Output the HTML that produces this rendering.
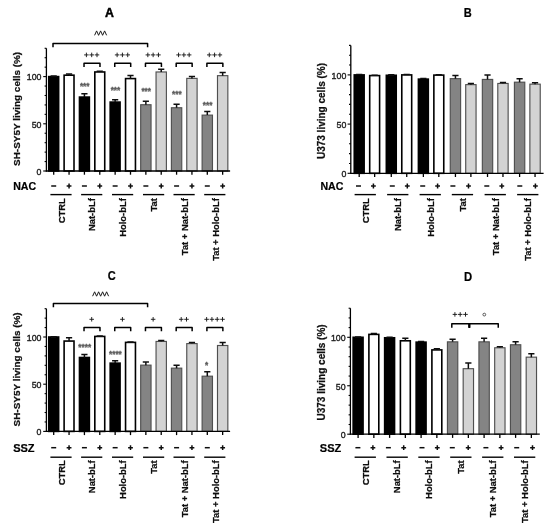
<!DOCTYPE html><html><head><meta charset="utf-8"><title>Figure</title>
<style>html,body{margin:0;padding:0;background:#fff}svg{display:block}</style></head><body>
<svg width="550" height="528" viewBox="0 0 550 528">
<defs><filter id="soft" x="0" y="0" width="550" height="528" filterUnits="userSpaceOnUse"><feGaussianBlur stdDeviation="0.45"/></filter></defs>
<rect width="550" height="528" fill="#fff"/>
<g filter="url(#soft)">
<rect width="550" height="528" fill="#fff"/>
<text transform="translate(109.35 16.9) scale(1.0 1)" font-family="Liberation Sans, sans-serif" font-size="12.3" font-weight="bold" fill="#000" stroke="#000" stroke-width="0.45" text-anchor="middle">A</text>
<text transform="translate(467.8 16.9) scale(0.9 1)" font-family="Liberation Sans, sans-serif" font-size="12.3" font-weight="bold" fill="#000" stroke="#000" stroke-width="0.2" text-anchor="middle">B</text>
<text transform="translate(111.75 280.3) scale(0.9 1)" font-family="Liberation Sans, sans-serif" font-size="12.3" font-weight="bold" fill="#000" stroke="#000" stroke-width="0.2" text-anchor="middle">C</text>
<text transform="translate(468 280.8) scale(0.92 1)" font-family="Liberation Sans, sans-serif" font-size="12.3" font-weight="bold" fill="#000" stroke="#000" stroke-width="0.2" text-anchor="middle">D</text>
<rect x="48.75" y="76.60" width="9.90" height="94.40" fill="#000" stroke="#000" stroke-width="1.6"/>
<path d="M53.70 76.60V76.03M50.60 76.03H56.80" stroke="#111" stroke-width="1.5" fill="none"/>
<rect x="64.11" y="75.18" width="9.90" height="95.82" fill="#fff" stroke="#000" stroke-width="1.6"/>
<path d="M69.06 75.18V74.05M65.96 74.05H72.16" stroke="#111" stroke-width="1.5" fill="none"/>
<rect x="79.47" y="97.08" width="9.90" height="73.92" fill="#000" stroke="#000" stroke-width="1.6"/>
<path d="M84.42 97.08V93.69M81.32 93.69H87.52" stroke="#111" stroke-width="1.5" fill="none"/>
<rect x="94.83" y="71.97" width="9.90" height="99.03" fill="#fff" stroke="#000" stroke-width="1.6"/>
<path d="M99.78 71.97V71.22M96.68 71.22H102.88" stroke="#111" stroke-width="1.5" fill="none"/>
<rect x="110.19" y="102.09" width="9.90" height="68.91" fill="#000" stroke="#000" stroke-width="1.6"/>
<path d="M115.14 102.09V99.73M112.04 99.73H118.24" stroke="#111" stroke-width="1.5" fill="none"/>
<rect x="125.55" y="78.58" width="9.90" height="92.42" fill="#fff" stroke="#000" stroke-width="1.6"/>
<path d="M130.50 78.58V75.56M127.40 75.56H133.60" stroke="#111" stroke-width="1.5" fill="none"/>
<rect x="140.69" y="104.73" width="10.35" height="66.27" fill="#848484" stroke="#505050" stroke-width="1.15"/>
<path d="M145.86 104.73V101.14M142.76 101.14H148.96" stroke="#111" stroke-width="1.5" fill="none"/>
<rect x="156.05" y="71.97" width="10.35" height="99.03" fill="#d3d3d3" stroke="#505050" stroke-width="1.15"/>
<path d="M161.22 71.97V69.33M158.12 69.33H164.32" stroke="#111" stroke-width="1.5" fill="none"/>
<rect x="171.40" y="107.75" width="10.35" height="63.25" fill="#848484" stroke="#505050" stroke-width="1.15"/>
<path d="M176.58 107.75V104.16M173.48 104.16H179.68" stroke="#111" stroke-width="1.5" fill="none"/>
<rect x="186.76" y="78.39" width="10.35" height="92.61" fill="#d3d3d3" stroke="#505050" stroke-width="1.15"/>
<path d="M191.94 78.39V76.60M188.84 76.60H195.04" stroke="#111" stroke-width="1.5" fill="none"/>
<rect x="202.12" y="115.12" width="10.35" height="55.88" fill="#848484" stroke="#505050" stroke-width="1.15"/>
<path d="M207.30 115.12V111.53M204.20 111.53H210.40" stroke="#111" stroke-width="1.5" fill="none"/>
<rect x="217.49" y="75.66" width="10.35" height="95.34" fill="#d3d3d3" stroke="#505050" stroke-width="1.15"/>
<path d="M222.66 75.66V72.45M219.56 72.45H225.76" stroke="#111" stroke-width="1.5" fill="none"/>
<path d="M46.40 48.28V171.60" stroke="#000" stroke-width="1.3" fill="none"/>
<path d="M45.80 171.00H230.10" stroke="#000" stroke-width="1.3" fill="none"/>
<path d="M43.20 171.00H46.40" stroke="#000" stroke-width="1.1"/>
<path d="M44.60 161.56H46.40" stroke="#000" stroke-width="1.1"/>
<path d="M44.60 152.12H46.40" stroke="#000" stroke-width="1.1"/>
<path d="M44.60 142.68H46.40" stroke="#000" stroke-width="1.1"/>
<path d="M44.60 133.24H46.40" stroke="#000" stroke-width="1.1"/>
<path d="M43.20 123.80H46.40" stroke="#000" stroke-width="1.1"/>
<path d="M44.60 114.36H46.40" stroke="#000" stroke-width="1.1"/>
<path d="M44.60 104.92H46.40" stroke="#000" stroke-width="1.1"/>
<path d="M44.60 95.48H46.40" stroke="#000" stroke-width="1.1"/>
<path d="M44.60 86.04H46.40" stroke="#000" stroke-width="1.1"/>
<path d="M43.20 76.60H46.40" stroke="#000" stroke-width="1.1"/>
<path d="M44.60 67.16H46.40" stroke="#000" stroke-width="1.1"/>
<path d="M44.60 57.72H46.40" stroke="#000" stroke-width="1.1"/>
<path d="M44.60 48.28H46.40" stroke="#000" stroke-width="1.1"/>
<text transform="translate(41.50 174.75) scale(0.89 1)" font-family="Liberation Sans, sans-serif" font-size="9.9" fill="#222" stroke="#222" stroke-width="0.4" text-anchor="end">0</text>
<text transform="translate(41.50 127.55) scale(0.89 1)" font-family="Liberation Sans, sans-serif" font-size="9.9" fill="#222" stroke="#222" stroke-width="0.4" text-anchor="end">50</text>
<text transform="translate(41.50 80.35) scale(0.89 1)" font-family="Liberation Sans, sans-serif" font-size="9.9" fill="#222" stroke="#222" stroke-width="0.4" text-anchor="end">100</text>
<path d="M53.70 171.00V174.70" stroke="#000" stroke-width="1.3"/>
<path d="M69.06 171.00V174.70" stroke="#000" stroke-width="1.3"/>
<path d="M84.42 171.00V174.70" stroke="#000" stroke-width="1.3"/>
<path d="M99.78 171.00V174.70" stroke="#000" stroke-width="1.3"/>
<path d="M115.14 171.00V174.70" stroke="#000" stroke-width="1.3"/>
<path d="M130.50 171.00V174.70" stroke="#000" stroke-width="1.3"/>
<path d="M145.86 171.00V174.70" stroke="#000" stroke-width="1.3"/>
<path d="M161.22 171.00V174.70" stroke="#000" stroke-width="1.3"/>
<path d="M176.58 171.00V174.70" stroke="#000" stroke-width="1.3"/>
<path d="M191.94 171.00V174.70" stroke="#000" stroke-width="1.3"/>
<path d="M207.30 171.00V174.70" stroke="#000" stroke-width="1.3"/>
<path d="M222.66 171.00V174.70" stroke="#000" stroke-width="1.3"/>
<text transform="translate(20.10 108.90) rotate(-90)" font-family="Liberation Sans, sans-serif" font-size="9.95" font-weight="bold" fill="#111" stroke="#111" stroke-width="0.25" text-anchor="middle">SH-SY5Y living cells (%)</text>
<text x="13.20" y="189.50" font-family="Liberation Sans, sans-serif" font-size="10.6" font-weight="bold" fill="#000" stroke="#000" stroke-width="0.2">NAC</text>
<path d="M51.20 186.00H56.20" stroke="#111" stroke-width="1.5"/>
<path d="M66.66 186.00H71.46M69.06 183.60V188.40" stroke="#111" stroke-width="1.5" fill="none"/>
<path d="M81.92 186.00H86.92" stroke="#111" stroke-width="1.5"/>
<path d="M97.38 186.00H102.18M99.78 183.60V188.40" stroke="#111" stroke-width="1.5" fill="none"/>
<path d="M112.64 186.00H117.64" stroke="#111" stroke-width="1.5"/>
<path d="M128.10 186.00H132.90M130.50 183.60V188.40" stroke="#111" stroke-width="1.5" fill="none"/>
<path d="M143.36 186.00H148.36" stroke="#111" stroke-width="1.5"/>
<path d="M158.82 186.00H163.62M161.22 183.60V188.40" stroke="#111" stroke-width="1.5" fill="none"/>
<path d="M174.08 186.00H179.08" stroke="#111" stroke-width="1.5"/>
<path d="M189.54 186.00H194.34M191.94 183.60V188.40" stroke="#111" stroke-width="1.5" fill="none"/>
<path d="M204.80 186.00H209.80" stroke="#111" stroke-width="1.5"/>
<path d="M220.26 186.00H225.06M222.66 183.60V188.40" stroke="#111" stroke-width="1.5" fill="none"/>
<path d="M50.40 194.60H71.60" stroke="#000" stroke-width="1.4" fill="none"/>
<text transform="translate(64.60 198.20) rotate(-90) scale(1 1.04)" font-family="Liberation Sans, sans-serif" font-size="9.4" font-weight="bold" fill="#111" stroke="#111" stroke-width="0.25" text-anchor="end">CTRL</text>
<path d="M81.10 194.60H102.30" stroke="#000" stroke-width="1.4" fill="none"/>
<text transform="translate(94.90 198.20) rotate(-90) scale(1 1.04)" font-family="Liberation Sans, sans-serif" font-size="9.4" font-weight="bold" fill="#111" stroke="#111" stroke-width="0.25" text-anchor="end">Nat-bLf</text>
<path d="M112.00 194.60H133.20" stroke="#000" stroke-width="1.4" fill="none"/>
<text transform="translate(126.30 198.20) rotate(-90) scale(1 1.04)" font-family="Liberation Sans, sans-serif" font-size="9.4" font-weight="bold" fill="#111" stroke="#111" stroke-width="0.25" text-anchor="end">Holo-bLf</text>
<path d="M143.00 194.60H164.20" stroke="#000" stroke-width="1.4" fill="none"/>
<text transform="translate(157.30 198.20) rotate(-90) scale(1 1.04)" font-family="Liberation Sans, sans-serif" font-size="9.4" font-weight="bold" fill="#111" stroke="#111" stroke-width="0.25" text-anchor="end">Tat</text>
<path d="M173.50 194.60H194.70" stroke="#000" stroke-width="1.4" fill="none"/>
<text transform="translate(188.30 198.20) rotate(-90) scale(1 1.04)" font-family="Liberation Sans, sans-serif" font-size="9.4" font-weight="bold" fill="#111" stroke="#111" stroke-width="0.25" text-anchor="end">Tat + Nat-bLf</text>
<path d="M204.20 194.60H225.40" stroke="#000" stroke-width="1.4" fill="none"/>
<text transform="translate(218.80 198.20) rotate(-90) scale(1 1.04)" font-family="Liberation Sans, sans-serif" font-size="9.4" font-weight="bold" fill="#111" stroke="#111" stroke-width="0.25" text-anchor="end">Tat + Holo-bLf</text>
<path d="M53.00 47.20V43.60H147.60V47.20" stroke="#000" stroke-width="1.5" fill="none" stroke-linejoin="round"/>
<path d="M94.60 35.30L96.60 30.90L98.60 35.30L100.60 30.90L102.60 35.30L104.60 30.90L106.60 35.30" stroke="#1a1a1a" stroke-width="1.0" fill="none" stroke-linejoin="miter"/>
<path d="M84.02 67.10V63.30H99.98V67.10" stroke="#000" stroke-width="1.5" fill="none" stroke-linejoin="round"/>
<path d="M84.15 54.90H88.65M86.40 52.65V57.15M89.45 54.90H93.95M91.70 52.65V57.15M94.75 54.90H99.25M97.00 52.65V57.15" stroke="#1a1a1a" stroke-width="0.95" fill="none"/>
<path d="M114.74 67.10V63.30H130.70V67.10" stroke="#000" stroke-width="1.5" fill="none" stroke-linejoin="round"/>
<path d="M114.87 54.90H119.37M117.12 52.65V57.15M120.17 54.90H124.67M122.42 52.65V57.15M125.47 54.90H129.97M127.72 52.65V57.15" stroke="#1a1a1a" stroke-width="0.95" fill="none"/>
<path d="M145.46 67.10V63.30H161.42V67.10" stroke="#000" stroke-width="1.5" fill="none" stroke-linejoin="round"/>
<path d="M145.59 54.90H150.09M147.84 52.65V57.15M150.89 54.90H155.39M153.14 52.65V57.15M156.19 54.90H160.69M158.44 52.65V57.15" stroke="#1a1a1a" stroke-width="0.95" fill="none"/>
<path d="M176.18 67.10V63.30H192.14V67.10" stroke="#000" stroke-width="1.5" fill="none" stroke-linejoin="round"/>
<path d="M176.31 54.90H180.81M178.56 52.65V57.15M181.61 54.90H186.11M183.86 52.65V57.15M186.91 54.90H191.41M189.16 52.65V57.15" stroke="#1a1a1a" stroke-width="0.95" fill="none"/>
<path d="M206.90 67.10V63.30H222.86V67.10" stroke="#000" stroke-width="1.5" fill="none" stroke-linejoin="round"/>
<path d="M207.03 54.90H211.53M209.28 52.65V57.15M212.33 54.90H216.83M214.58 52.65V57.15M217.63 54.90H222.13M219.88 52.65V57.15" stroke="#1a1a1a" stroke-width="0.95" fill="none"/>
<text x="84.72" y="89.14" font-family="Liberation Sans, sans-serif" font-size="8.2" font-weight="bold" fill="#5a5a5a" stroke="#5a5a5a" stroke-width="0.3" text-anchor="middle">***</text>
<text x="115.44" y="92.74" font-family="Liberation Sans, sans-serif" font-size="8.2" font-weight="bold" fill="#5a5a5a" stroke="#5a5a5a" stroke-width="0.3" text-anchor="middle">***</text>
<text x="146.16" y="93.74" font-family="Liberation Sans, sans-serif" font-size="8.2" font-weight="bold" fill="#5a5a5a" stroke="#5a5a5a" stroke-width="0.3" text-anchor="middle">***</text>
<text x="176.88" y="96.74" font-family="Liberation Sans, sans-serif" font-size="8.2" font-weight="bold" fill="#5a5a5a" stroke="#5a5a5a" stroke-width="0.3" text-anchor="middle">***</text>
<text x="207.60" y="107.54" font-family="Liberation Sans, sans-serif" font-size="8.2" font-weight="bold" fill="#5a5a5a" stroke="#5a5a5a" stroke-width="0.3" text-anchor="middle">***</text>
<rect x="354.25" y="74.90" width="9.90" height="98.40" fill="#000" stroke="#000" stroke-width="1.6"/>
<path d="M359.20 74.90V74.60M356.10 74.60H362.30" stroke="#111" stroke-width="1.5" fill="none"/>
<rect x="369.70" y="75.59" width="9.90" height="97.71" fill="#fff" stroke="#000" stroke-width="1.6"/>
<path d="M374.65 75.59V75.29M371.55 75.29H377.75" stroke="#111" stroke-width="1.5" fill="none"/>
<rect x="386.33" y="75.29" width="9.90" height="98.01" fill="#000" stroke="#000" stroke-width="1.6"/>
<path d="M391.28 75.29V74.80M388.18 74.80H394.38" stroke="#111" stroke-width="1.5" fill="none"/>
<rect x="401.78" y="74.90" width="9.90" height="98.40" fill="#fff" stroke="#000" stroke-width="1.6"/>
<path d="M406.73 74.90V74.60M403.63 74.60H409.83" stroke="#111" stroke-width="1.5" fill="none"/>
<rect x="418.41" y="79.13" width="9.90" height="94.17" fill="#000" stroke="#000" stroke-width="1.6"/>
<path d="M423.36 79.13V78.54M420.26 78.54H426.46" stroke="#111" stroke-width="1.5" fill="none"/>
<rect x="433.86" y="75.10" width="9.90" height="98.20" fill="#fff" stroke="#000" stroke-width="1.6"/>
<path d="M438.81 75.10V74.70M435.71 74.70H441.91" stroke="#111" stroke-width="1.5" fill="none"/>
<rect x="450.26" y="78.64" width="10.35" height="94.66" fill="#848484" stroke="#505050" stroke-width="1.15"/>
<path d="M455.44 78.64V75.49M452.34 75.49H458.54" stroke="#111" stroke-width="1.5" fill="none"/>
<rect x="465.71" y="84.64" width="10.35" height="88.66" fill="#d3d3d3" stroke="#505050" stroke-width="1.15"/>
<path d="M470.89 84.64V83.46M467.79 83.46H473.99" stroke="#111" stroke-width="1.5" fill="none"/>
<rect x="482.34" y="79.43" width="10.35" height="93.87" fill="#848484" stroke="#505050" stroke-width="1.15"/>
<path d="M487.52 79.43V75.10M484.42 75.10H490.62" stroke="#111" stroke-width="1.5" fill="none"/>
<rect x="497.79" y="83.46" width="10.35" height="89.84" fill="#d3d3d3" stroke="#505050" stroke-width="1.15"/>
<path d="M502.97 83.46V82.48M499.87 82.48H506.07" stroke="#111" stroke-width="1.5" fill="none"/>
<rect x="514.42" y="82.18" width="10.35" height="91.12" fill="#848484" stroke="#505050" stroke-width="1.15"/>
<path d="M519.60 82.18V78.64M516.50 78.64H522.70" stroke="#111" stroke-width="1.5" fill="none"/>
<rect x="529.88" y="84.15" width="10.35" height="89.15" fill="#d3d3d3" stroke="#505050" stroke-width="1.15"/>
<path d="M535.05 84.15V82.77M531.95 82.77H538.15" stroke="#111" stroke-width="1.5" fill="none"/>
<path d="M350.80 45.38V173.90" stroke="#000" stroke-width="1.3" fill="none"/>
<path d="M350.20 173.30H543.60" stroke="#000" stroke-width="1.3" fill="none"/>
<path d="M347.60 173.30H350.80" stroke="#000" stroke-width="1.1"/>
<path d="M349.00 163.46H350.80" stroke="#000" stroke-width="1.1"/>
<path d="M349.00 153.62H350.80" stroke="#000" stroke-width="1.1"/>
<path d="M349.00 143.78H350.80" stroke="#000" stroke-width="1.1"/>
<path d="M349.00 133.94H350.80" stroke="#000" stroke-width="1.1"/>
<path d="M347.60 124.10H350.80" stroke="#000" stroke-width="1.1"/>
<path d="M349.00 114.26H350.80" stroke="#000" stroke-width="1.1"/>
<path d="M349.00 104.42H350.80" stroke="#000" stroke-width="1.1"/>
<path d="M349.00 94.58H350.80" stroke="#000" stroke-width="1.1"/>
<path d="M349.00 84.74H350.80" stroke="#000" stroke-width="1.1"/>
<path d="M347.60 74.90H350.80" stroke="#000" stroke-width="1.1"/>
<path d="M349.00 65.06H350.80" stroke="#000" stroke-width="1.1"/>
<path d="M349.00 55.22H350.80" stroke="#000" stroke-width="1.1"/>
<path d="M349.00 45.38H350.80" stroke="#000" stroke-width="1.1"/>
<text transform="translate(346.30 177.05) scale(0.89 1)" font-family="Liberation Sans, sans-serif" font-size="9.9" fill="#222" stroke="#222" stroke-width="0.4" text-anchor="end">0</text>
<text transform="translate(346.30 127.85) scale(0.89 1)" font-family="Liberation Sans, sans-serif" font-size="9.9" fill="#222" stroke="#222" stroke-width="0.4" text-anchor="end">50</text>
<text transform="translate(346.30 78.65) scale(0.89 1)" font-family="Liberation Sans, sans-serif" font-size="9.9" fill="#222" stroke="#222" stroke-width="0.4" text-anchor="end">100</text>
<path d="M359.20 173.30V177.00" stroke="#000" stroke-width="1.3"/>
<path d="M374.65 173.30V177.00" stroke="#000" stroke-width="1.3"/>
<path d="M391.28 173.30V177.00" stroke="#000" stroke-width="1.3"/>
<path d="M406.73 173.30V177.00" stroke="#000" stroke-width="1.3"/>
<path d="M423.36 173.30V177.00" stroke="#000" stroke-width="1.3"/>
<path d="M438.81 173.30V177.00" stroke="#000" stroke-width="1.3"/>
<path d="M455.44 173.30V177.00" stroke="#000" stroke-width="1.3"/>
<path d="M470.89 173.30V177.00" stroke="#000" stroke-width="1.3"/>
<path d="M487.52 173.30V177.00" stroke="#000" stroke-width="1.3"/>
<path d="M502.97 173.30V177.00" stroke="#000" stroke-width="1.3"/>
<path d="M519.60 173.30V177.00" stroke="#000" stroke-width="1.3"/>
<path d="M535.05 173.30V177.00" stroke="#000" stroke-width="1.3"/>
<text transform="translate(325.00 111.00) rotate(-90)" font-family="Liberation Sans, sans-serif" font-size="10.00" font-weight="bold" fill="#111" stroke="#111" stroke-width="0.25" text-anchor="middle">U373 living cells (%)</text>
<text x="320.40" y="189.50" font-family="Liberation Sans, sans-serif" font-size="10.6" font-weight="bold" fill="#000" stroke="#000" stroke-width="0.2">NAC</text>
<path d="M356.00 186.00H361.00" stroke="#111" stroke-width="1.5"/>
<path d="M371.00 186.00H375.80M373.40 183.60V188.40" stroke="#111" stroke-width="1.5" fill="none"/>
<path d="M389.80 186.00H394.80" stroke="#111" stroke-width="1.5"/>
<path d="M404.90 186.00H409.70M407.30 183.60V188.40" stroke="#111" stroke-width="1.5" fill="none"/>
<path d="M420.20 186.00H425.20" stroke="#111" stroke-width="1.5"/>
<path d="M435.20 186.00H440.00M437.60 183.60V188.40" stroke="#111" stroke-width="1.5" fill="none"/>
<path d="M450.40 186.00H455.40" stroke="#111" stroke-width="1.5"/>
<path d="M466.10 186.00H470.90M468.50 183.60V188.40" stroke="#111" stroke-width="1.5" fill="none"/>
<path d="M484.30 186.00H489.30" stroke="#111" stroke-width="1.5"/>
<path d="M499.40 186.00H504.20M501.80 183.60V188.40" stroke="#111" stroke-width="1.5" fill="none"/>
<path d="M517.30 186.00H522.30" stroke="#111" stroke-width="1.5"/>
<path d="M533.00 186.00H537.80M535.40 183.60V188.40" stroke="#111" stroke-width="1.5" fill="none"/>
<path d="M354.60 194.60H375.90" stroke="#000" stroke-width="1.4" fill="none"/>
<text transform="translate(368.60 198.20) rotate(-90) scale(1 1.04)" font-family="Liberation Sans, sans-serif" font-size="9.4" font-weight="bold" fill="#111" stroke="#111" stroke-width="0.25" text-anchor="end">CTRL</text>
<path d="M387.10 194.60H408.40" stroke="#000" stroke-width="1.4" fill="none"/>
<text transform="translate(401.00 198.20) rotate(-90) scale(1 1.04)" font-family="Liberation Sans, sans-serif" font-size="9.4" font-weight="bold" fill="#111" stroke="#111" stroke-width="0.25" text-anchor="end">Nat-bLf</text>
<path d="M419.60 194.60H440.90" stroke="#000" stroke-width="1.4" fill="none"/>
<text transform="translate(433.60 198.20) rotate(-90) scale(1 1.04)" font-family="Liberation Sans, sans-serif" font-size="9.4" font-weight="bold" fill="#111" stroke="#111" stroke-width="0.25" text-anchor="end">Holo-bLf</text>
<path d="M451.80 194.60H473.10" stroke="#000" stroke-width="1.4" fill="none"/>
<text transform="translate(466.00 198.20) rotate(-90) scale(1 1.04)" font-family="Liberation Sans, sans-serif" font-size="9.4" font-weight="bold" fill="#111" stroke="#111" stroke-width="0.25" text-anchor="end">Tat</text>
<path d="M484.60 194.60H505.90" stroke="#000" stroke-width="1.4" fill="none"/>
<text transform="translate(498.80 198.20) rotate(-90) scale(1 1.04)" font-family="Liberation Sans, sans-serif" font-size="9.4" font-weight="bold" fill="#111" stroke="#111" stroke-width="0.25" text-anchor="end">Tat + Nat-bLf</text>
<path d="M517.10 194.60H538.40" stroke="#000" stroke-width="1.4" fill="none"/>
<text transform="translate(531.00 198.20) rotate(-90) scale(1 1.04)" font-family="Liberation Sans, sans-serif" font-size="9.4" font-weight="bold" fill="#111" stroke="#111" stroke-width="0.25" text-anchor="end">Tat + Holo-bLf</text>
<rect x="48.75" y="337.00" width="9.90" height="94.40" fill="#000" stroke="#000" stroke-width="1.6"/>
<path d="M53.70 337.00V336.72M50.60 336.72H56.80" stroke="#111" stroke-width="1.5" fill="none"/>
<rect x="64.11" y="341.06" width="9.90" height="90.34" fill="#fff" stroke="#000" stroke-width="1.6"/>
<path d="M69.06 341.06V337.66M65.96 337.66H72.16" stroke="#111" stroke-width="1.5" fill="none"/>
<rect x="79.47" y="357.48" width="9.90" height="73.92" fill="#000" stroke="#000" stroke-width="1.6"/>
<path d="M84.42 357.48V354.46M81.32 354.46H87.52" stroke="#111" stroke-width="1.5" fill="none"/>
<rect x="94.83" y="336.43" width="9.90" height="94.97" fill="#fff" stroke="#000" stroke-width="1.6"/>
<path d="M99.78 336.43V335.96M96.68 335.96H102.88" stroke="#111" stroke-width="1.5" fill="none"/>
<rect x="110.19" y="363.15" width="9.90" height="68.25" fill="#000" stroke="#000" stroke-width="1.6"/>
<path d="M115.14 363.15V360.69M112.04 360.69H118.24" stroke="#111" stroke-width="1.5" fill="none"/>
<rect x="125.55" y="342.38" width="9.90" height="89.02" fill="#fff" stroke="#000" stroke-width="1.6"/>
<path d="M130.50 342.38V341.91M127.40 341.91H133.60" stroke="#111" stroke-width="1.5" fill="none"/>
<rect x="140.69" y="365.13" width="10.35" height="66.27" fill="#848484" stroke="#505050" stroke-width="1.15"/>
<path d="M145.86 365.13V362.11M142.76 362.11H148.96" stroke="#111" stroke-width="1.5" fill="none"/>
<rect x="156.05" y="341.44" width="10.35" height="89.96" fill="#d3d3d3" stroke="#505050" stroke-width="1.15"/>
<path d="M161.22 341.44V340.40M158.12 340.40H164.32" stroke="#111" stroke-width="1.5" fill="none"/>
<rect x="171.40" y="368.15" width="10.35" height="63.25" fill="#848484" stroke="#505050" stroke-width="1.15"/>
<path d="M176.58 368.15V365.13M173.48 365.13H179.68" stroke="#111" stroke-width="1.5" fill="none"/>
<rect x="186.76" y="343.61" width="10.35" height="87.79" fill="#d3d3d3" stroke="#505050" stroke-width="1.15"/>
<path d="M191.94 343.61V342.57M188.84 342.57H195.04" stroke="#111" stroke-width="1.5" fill="none"/>
<rect x="202.12" y="376.18" width="10.35" height="55.22" fill="#848484" stroke="#505050" stroke-width="1.15"/>
<path d="M207.30 376.18V371.74M204.20 371.74H210.40" stroke="#111" stroke-width="1.5" fill="none"/>
<rect x="217.49" y="345.50" width="10.35" height="85.90" fill="#d3d3d3" stroke="#505050" stroke-width="1.15"/>
<path d="M222.66 345.50V342.48M219.56 342.48H225.76" stroke="#111" stroke-width="1.5" fill="none"/>
<path d="M46.40 308.68V432.00" stroke="#000" stroke-width="1.3" fill="none"/>
<path d="M45.80 431.40H230.10" stroke="#000" stroke-width="1.3" fill="none"/>
<path d="M43.20 431.40H46.40" stroke="#000" stroke-width="1.1"/>
<path d="M44.60 421.96H46.40" stroke="#000" stroke-width="1.1"/>
<path d="M44.60 412.52H46.40" stroke="#000" stroke-width="1.1"/>
<path d="M44.60 403.08H46.40" stroke="#000" stroke-width="1.1"/>
<path d="M44.60 393.64H46.40" stroke="#000" stroke-width="1.1"/>
<path d="M43.20 384.20H46.40" stroke="#000" stroke-width="1.1"/>
<path d="M44.60 374.76H46.40" stroke="#000" stroke-width="1.1"/>
<path d="M44.60 365.32H46.40" stroke="#000" stroke-width="1.1"/>
<path d="M44.60 355.88H46.40" stroke="#000" stroke-width="1.1"/>
<path d="M44.60 346.44H46.40" stroke="#000" stroke-width="1.1"/>
<path d="M43.20 337.00H46.40" stroke="#000" stroke-width="1.1"/>
<path d="M44.60 327.56H46.40" stroke="#000" stroke-width="1.1"/>
<path d="M44.60 318.12H46.40" stroke="#000" stroke-width="1.1"/>
<path d="M44.60 308.68H46.40" stroke="#000" stroke-width="1.1"/>
<text transform="translate(41.50 435.15) scale(0.89 1)" font-family="Liberation Sans, sans-serif" font-size="9.9" fill="#222" stroke="#222" stroke-width="0.4" text-anchor="end">0</text>
<text transform="translate(41.50 387.95) scale(0.89 1)" font-family="Liberation Sans, sans-serif" font-size="9.9" fill="#222" stroke="#222" stroke-width="0.4" text-anchor="end">50</text>
<text transform="translate(41.50 340.75) scale(0.89 1)" font-family="Liberation Sans, sans-serif" font-size="9.9" fill="#222" stroke="#222" stroke-width="0.4" text-anchor="end">100</text>
<path d="M53.70 431.40V435.10" stroke="#000" stroke-width="1.3"/>
<path d="M69.06 431.40V435.10" stroke="#000" stroke-width="1.3"/>
<path d="M84.42 431.40V435.10" stroke="#000" stroke-width="1.3"/>
<path d="M99.78 431.40V435.10" stroke="#000" stroke-width="1.3"/>
<path d="M115.14 431.40V435.10" stroke="#000" stroke-width="1.3"/>
<path d="M130.50 431.40V435.10" stroke="#000" stroke-width="1.3"/>
<path d="M145.86 431.40V435.10" stroke="#000" stroke-width="1.3"/>
<path d="M161.22 431.40V435.10" stroke="#000" stroke-width="1.3"/>
<path d="M176.58 431.40V435.10" stroke="#000" stroke-width="1.3"/>
<path d="M191.94 431.40V435.10" stroke="#000" stroke-width="1.3"/>
<path d="M207.30 431.40V435.10" stroke="#000" stroke-width="1.3"/>
<path d="M222.66 431.40V435.10" stroke="#000" stroke-width="1.3"/>
<text transform="translate(20.10 369.40) rotate(-90)" font-family="Liberation Sans, sans-serif" font-size="9.95" font-weight="bold" fill="#111" stroke="#111" stroke-width="0.25" text-anchor="middle">SH-SY5Y living cells (%)</text>
<text x="13.20" y="451.60" font-family="Liberation Sans, sans-serif" font-size="11.0" font-weight="bold" fill="#000" stroke="#000" stroke-width="0.2">SSZ</text>
<path d="M51.20 447.70H56.20" stroke="#111" stroke-width="1.5"/>
<path d="M66.66 447.70H71.46M69.06 445.30V450.10" stroke="#111" stroke-width="1.5" fill="none"/>
<path d="M81.92 447.70H86.92" stroke="#111" stroke-width="1.5"/>
<path d="M97.38 447.70H102.18M99.78 445.30V450.10" stroke="#111" stroke-width="1.5" fill="none"/>
<path d="M112.64 447.70H117.64" stroke="#111" stroke-width="1.5"/>
<path d="M128.10 447.70H132.90M130.50 445.30V450.10" stroke="#111" stroke-width="1.5" fill="none"/>
<path d="M143.36 447.70H148.36" stroke="#111" stroke-width="1.5"/>
<path d="M158.82 447.70H163.62M161.22 445.30V450.10" stroke="#111" stroke-width="1.5" fill="none"/>
<path d="M174.08 447.70H179.08" stroke="#111" stroke-width="1.5"/>
<path d="M189.54 447.70H194.34M191.94 445.30V450.10" stroke="#111" stroke-width="1.5" fill="none"/>
<path d="M204.80 447.70H209.80" stroke="#111" stroke-width="1.5"/>
<path d="M220.26 447.70H225.06M222.66 445.30V450.10" stroke="#111" stroke-width="1.5" fill="none"/>
<path d="M50.40 457.20H71.60" stroke="#000" stroke-width="1.4" fill="none"/>
<text transform="translate(64.60 460.30) rotate(-90) scale(1 1.04)" font-family="Liberation Sans, sans-serif" font-size="9.4" font-weight="bold" fill="#111" stroke="#111" stroke-width="0.25" text-anchor="end">CTRL</text>
<path d="M81.10 457.20H102.30" stroke="#000" stroke-width="1.4" fill="none"/>
<text transform="translate(94.90 460.30) rotate(-90) scale(1 1.04)" font-family="Liberation Sans, sans-serif" font-size="9.4" font-weight="bold" fill="#111" stroke="#111" stroke-width="0.25" text-anchor="end">Nat-bLf</text>
<path d="M112.00 457.20H133.20" stroke="#000" stroke-width="1.4" fill="none"/>
<text transform="translate(126.30 460.30) rotate(-90) scale(1 1.04)" font-family="Liberation Sans, sans-serif" font-size="9.4" font-weight="bold" fill="#111" stroke="#111" stroke-width="0.25" text-anchor="end">Holo-bLf</text>
<path d="M143.00 457.20H164.20" stroke="#000" stroke-width="1.4" fill="none"/>
<text transform="translate(157.30 460.30) rotate(-90) scale(1 1.04)" font-family="Liberation Sans, sans-serif" font-size="9.4" font-weight="bold" fill="#111" stroke="#111" stroke-width="0.25" text-anchor="end">Tat</text>
<path d="M173.50 457.20H194.70" stroke="#000" stroke-width="1.4" fill="none"/>
<text transform="translate(188.30 460.30) rotate(-90) scale(1 1.04)" font-family="Liberation Sans, sans-serif" font-size="9.4" font-weight="bold" fill="#111" stroke="#111" stroke-width="0.25" text-anchor="end">Tat + Nat-bLf</text>
<path d="M204.20 457.20H225.40" stroke="#000" stroke-width="1.4" fill="none"/>
<text transform="translate(218.80 460.30) rotate(-90) scale(1 1.04)" font-family="Liberation Sans, sans-serif" font-size="9.4" font-weight="bold" fill="#111" stroke="#111" stroke-width="0.25" text-anchor="end">Tat + Holo-bLf</text>
<path d="M53.40 307.20V303.60H147.60V307.20" stroke="#000" stroke-width="1.5" fill="none" stroke-linejoin="round"/>
<path d="M92.60 296.20L94.60 291.80L96.60 296.20L98.60 291.80L100.60 296.20L102.60 291.80L104.60 296.20L106.60 291.80L108.60 296.20" stroke="#1a1a1a" stroke-width="1.0" fill="none" stroke-linejoin="miter"/>
<path d="M84.02 331.30V327.50H99.98V331.30" stroke="#000" stroke-width="1.5" fill="none" stroke-linejoin="round"/>
<path d="M89.45 319.30H93.95M91.70 317.05V321.55" stroke="#1a1a1a" stroke-width="0.95" fill="none"/>
<path d="M114.74 331.30V327.50H130.70V331.30" stroke="#000" stroke-width="1.5" fill="none" stroke-linejoin="round"/>
<path d="M120.17 319.30H124.67M122.42 317.05V321.55" stroke="#1a1a1a" stroke-width="0.95" fill="none"/>
<path d="M145.46 331.30V327.50H161.42V331.30" stroke="#000" stroke-width="1.5" fill="none" stroke-linejoin="round"/>
<path d="M150.89 319.30H155.39M153.14 317.05V321.55" stroke="#1a1a1a" stroke-width="0.95" fill="none"/>
<path d="M176.18 331.30V327.50H192.14V331.30" stroke="#000" stroke-width="1.5" fill="none" stroke-linejoin="round"/>
<path d="M178.96 319.30H183.46M181.21 317.05V321.55M184.26 319.30H188.76M186.51 317.05V321.55" stroke="#1a1a1a" stroke-width="0.95" fill="none"/>
<path d="M206.90 331.30V327.50H222.86V331.30" stroke="#000" stroke-width="1.5" fill="none" stroke-linejoin="round"/>
<path d="M204.38 319.30H208.88M206.63 317.05V321.55M209.68 319.30H214.18M211.93 317.05V321.55M214.98 319.30H219.48M217.23 317.05V321.55M220.28 319.30H224.78M222.53 317.05V321.55" stroke="#1a1a1a" stroke-width="0.95" fill="none"/>
<text x="84.72" y="349.74" font-family="Liberation Sans, sans-serif" font-size="8.2" font-weight="bold" fill="#5a5a5a" stroke="#5a5a5a" stroke-width="0.3" text-anchor="middle">****</text>
<text x="115.44" y="356.74" font-family="Liberation Sans, sans-serif" font-size="8.2" font-weight="bold" fill="#5a5a5a" stroke="#5a5a5a" stroke-width="0.3" text-anchor="middle">****</text>
<text x="206.60" y="367.54" font-family="Liberation Sans, sans-serif" font-size="8.2" font-weight="bold" fill="#5a5a5a" stroke="#5a5a5a" stroke-width="0.3" text-anchor="middle">*</text>
<rect x="353.15" y="337.30" width="9.90" height="96.90" fill="#000" stroke="#000" stroke-width="1.6"/>
<path d="M358.10 337.30V337.01M355.00 337.01H361.20" stroke="#111" stroke-width="1.5" fill="none"/>
<rect x="368.90" y="334.39" width="9.90" height="99.81" fill="#fff" stroke="#000" stroke-width="1.6"/>
<path d="M373.85 334.39V333.42M370.75 333.42H376.95" stroke="#111" stroke-width="1.5" fill="none"/>
<rect x="384.65" y="337.78" width="9.90" height="96.42" fill="#000" stroke="#000" stroke-width="1.6"/>
<path d="M389.60 337.78V337.30M386.50 337.30H392.70" stroke="#111" stroke-width="1.5" fill="none"/>
<rect x="400.40" y="340.79" width="9.90" height="93.41" fill="#fff" stroke="#000" stroke-width="1.6"/>
<path d="M405.35 340.79V338.17M402.25 338.17H408.45" stroke="#111" stroke-width="1.5" fill="none"/>
<rect x="416.15" y="342.14" width="9.90" height="92.06" fill="#000" stroke="#000" stroke-width="1.6"/>
<path d="M421.10 342.14V341.56M418.00 341.56H424.20" stroke="#111" stroke-width="1.5" fill="none"/>
<rect x="431.90" y="349.90" width="9.90" height="84.30" fill="#fff" stroke="#000" stroke-width="1.6"/>
<path d="M436.85 349.90V348.73M433.75 348.73H439.95" stroke="#111" stroke-width="1.5" fill="none"/>
<rect x="447.43" y="341.85" width="10.35" height="92.35" fill="#848484" stroke="#505050" stroke-width="1.15"/>
<path d="M452.60 341.85V339.24M449.50 339.24H455.70" stroke="#111" stroke-width="1.5" fill="none"/>
<rect x="463.18" y="368.70" width="10.35" height="65.50" fill="#d3d3d3" stroke="#505050" stroke-width="1.15"/>
<path d="M468.35 368.70V363.08M465.25 363.08H471.45" stroke="#111" stroke-width="1.5" fill="none"/>
<rect x="478.93" y="341.85" width="10.35" height="92.35" fill="#848484" stroke="#505050" stroke-width="1.15"/>
<path d="M484.10 341.85V338.37M481.00 338.37H487.20" stroke="#111" stroke-width="1.5" fill="none"/>
<rect x="494.68" y="347.77" width="10.35" height="86.43" fill="#d3d3d3" stroke="#505050" stroke-width="1.15"/>
<path d="M499.85 347.77V346.70M496.75 346.70H502.95" stroke="#111" stroke-width="1.5" fill="none"/>
<rect x="510.43" y="344.76" width="10.35" height="89.44" fill="#848484" stroke="#505050" stroke-width="1.15"/>
<path d="M515.60 344.76V341.85M512.50 341.85H518.70" stroke="#111" stroke-width="1.5" fill="none"/>
<rect x="526.18" y="357.16" width="10.35" height="77.04" fill="#d3d3d3" stroke="#505050" stroke-width="1.15"/>
<path d="M531.35 357.16V353.68M528.25 353.68H534.45" stroke="#111" stroke-width="1.5" fill="none"/>
<path d="M350.40 308.23V434.80" stroke="#000" stroke-width="1.3" fill="none"/>
<path d="M349.80 434.20H539.80" stroke="#000" stroke-width="1.3" fill="none"/>
<path d="M347.20 434.20H350.40" stroke="#000" stroke-width="1.1"/>
<path d="M348.60 424.51H350.40" stroke="#000" stroke-width="1.1"/>
<path d="M348.60 414.82H350.40" stroke="#000" stroke-width="1.1"/>
<path d="M348.60 405.13H350.40" stroke="#000" stroke-width="1.1"/>
<path d="M348.60 395.44H350.40" stroke="#000" stroke-width="1.1"/>
<path d="M347.20 385.75H350.40" stroke="#000" stroke-width="1.1"/>
<path d="M348.60 376.06H350.40" stroke="#000" stroke-width="1.1"/>
<path d="M348.60 366.37H350.40" stroke="#000" stroke-width="1.1"/>
<path d="M348.60 356.68H350.40" stroke="#000" stroke-width="1.1"/>
<path d="M348.60 346.99H350.40" stroke="#000" stroke-width="1.1"/>
<path d="M347.20 337.30H350.40" stroke="#000" stroke-width="1.1"/>
<path d="M348.60 327.61H350.40" stroke="#000" stroke-width="1.1"/>
<path d="M348.60 317.92H350.40" stroke="#000" stroke-width="1.1"/>
<path d="M348.60 308.23H350.40" stroke="#000" stroke-width="1.1"/>
<text transform="translate(345.60 437.95) scale(0.89 1)" font-family="Liberation Sans, sans-serif" font-size="9.9" fill="#222" stroke="#222" stroke-width="0.4" text-anchor="end">0</text>
<text transform="translate(345.60 389.50) scale(0.89 1)" font-family="Liberation Sans, sans-serif" font-size="9.9" fill="#222" stroke="#222" stroke-width="0.4" text-anchor="end">50</text>
<text transform="translate(345.60 341.05) scale(0.89 1)" font-family="Liberation Sans, sans-serif" font-size="9.9" fill="#222" stroke="#222" stroke-width="0.4" text-anchor="end">100</text>
<path d="M358.10 434.20V437.90" stroke="#000" stroke-width="1.3"/>
<path d="M373.85 434.20V437.90" stroke="#000" stroke-width="1.3"/>
<path d="M389.60 434.20V437.90" stroke="#000" stroke-width="1.3"/>
<path d="M405.35 434.20V437.90" stroke="#000" stroke-width="1.3"/>
<path d="M421.10 434.20V437.90" stroke="#000" stroke-width="1.3"/>
<path d="M436.85 434.20V437.90" stroke="#000" stroke-width="1.3"/>
<path d="M452.60 434.20V437.90" stroke="#000" stroke-width="1.3"/>
<path d="M468.35 434.20V437.90" stroke="#000" stroke-width="1.3"/>
<path d="M484.10 434.20V437.90" stroke="#000" stroke-width="1.3"/>
<path d="M499.85 434.20V437.90" stroke="#000" stroke-width="1.3"/>
<path d="M515.60 434.20V437.90" stroke="#000" stroke-width="1.3"/>
<path d="M531.35 434.20V437.90" stroke="#000" stroke-width="1.3"/>
<text transform="translate(324.90 372.40) rotate(-90)" font-family="Liberation Sans, sans-serif" font-size="10.00" font-weight="bold" fill="#111" stroke="#111" stroke-width="0.25" text-anchor="middle">U373 living cells (%)</text>
<text x="319.80" y="451.60" font-family="Liberation Sans, sans-serif" font-size="11.0" font-weight="bold" fill="#000" stroke="#000" stroke-width="0.2">SSZ</text>
<path d="M355.40 447.70H360.40" stroke="#111" stroke-width="1.5"/>
<path d="M370.50 447.70H375.30M372.90 445.30V450.10" stroke="#111" stroke-width="1.5" fill="none"/>
<path d="M385.90 447.70H390.90" stroke="#111" stroke-width="1.5"/>
<path d="M401.30 447.70H406.10M403.70 445.30V450.10" stroke="#111" stroke-width="1.5" fill="none"/>
<path d="M419.50 447.70H424.50" stroke="#111" stroke-width="1.5"/>
<path d="M434.90 447.70H439.70M437.30 445.30V450.10" stroke="#111" stroke-width="1.5" fill="none"/>
<path d="M449.80 447.70H454.80" stroke="#111" stroke-width="1.5"/>
<path d="M465.80 447.70H470.60M468.20 445.30V450.10" stroke="#111" stroke-width="1.5" fill="none"/>
<path d="M483.40 447.70H488.40" stroke="#111" stroke-width="1.5"/>
<path d="M498.70 447.70H503.50M501.10 445.30V450.10" stroke="#111" stroke-width="1.5" fill="none"/>
<path d="M514.20 447.70H519.20" stroke="#111" stroke-width="1.5"/>
<path d="M530.10 447.70H534.90M532.50 445.30V450.10" stroke="#111" stroke-width="1.5" fill="none"/>
<path d="M354.60 457.20H375.90" stroke="#000" stroke-width="1.4" fill="none"/>
<text transform="translate(368.60 460.30) rotate(-90) scale(1 1.04)" font-family="Liberation Sans, sans-serif" font-size="9.4" font-weight="bold" fill="#111" stroke="#111" stroke-width="0.25" text-anchor="end">CTRL</text>
<path d="M386.50 457.20H407.80" stroke="#000" stroke-width="1.4" fill="none"/>
<text transform="translate(399.90 460.30) rotate(-90) scale(1 1.04)" font-family="Liberation Sans, sans-serif" font-size="9.4" font-weight="bold" fill="#111" stroke="#111" stroke-width="0.25" text-anchor="end">Nat-bLf</text>
<path d="M418.30 457.20H439.60" stroke="#000" stroke-width="1.4" fill="none"/>
<text transform="translate(432.30 460.30) rotate(-90) scale(1 1.04)" font-family="Liberation Sans, sans-serif" font-size="9.4" font-weight="bold" fill="#111" stroke="#111" stroke-width="0.25" text-anchor="end">Holo-bLf</text>
<path d="M450.20 457.20H471.50" stroke="#000" stroke-width="1.4" fill="none"/>
<text transform="translate(464.10 460.30) rotate(-90) scale(1 1.04)" font-family="Liberation Sans, sans-serif" font-size="9.4" font-weight="bold" fill="#111" stroke="#111" stroke-width="0.25" text-anchor="end">Tat</text>
<path d="M482.10 457.20H503.40" stroke="#000" stroke-width="1.4" fill="none"/>
<text transform="translate(496.30 460.30) rotate(-90) scale(1 1.04)" font-family="Liberation Sans, sans-serif" font-size="9.4" font-weight="bold" fill="#111" stroke="#111" stroke-width="0.25" text-anchor="end">Tat + Nat-bLf</text>
<path d="M514.00 457.20H535.30" stroke="#000" stroke-width="1.4" fill="none"/>
<text transform="translate(527.90 460.30) rotate(-90) scale(1 1.04)" font-family="Liberation Sans, sans-serif" font-size="9.4" font-weight="bold" fill="#111" stroke="#111" stroke-width="0.25" text-anchor="end">Tat + Holo-bLf</text>
<path d="M451.80 327.80V323.80H469.35V327.80" stroke="#000" stroke-width="1.5" fill="none" stroke-linejoin="round"/>
<path d="M469.35 327.80V323.80H498.25V327.80" stroke="#000" stroke-width="1.5" fill="none" stroke-linejoin="round"/>
<rect x="468.35" y="323.2" width="2" height="4.6" fill="#000"/>
<path d="M452.65 314.40H457.15M454.90 312.15V316.65M457.95 314.40H462.45M460.20 312.15V316.65M463.25 314.40H467.75M465.50 312.15V316.65" stroke="#1a1a1a" stroke-width="0.95" fill="none"/>
<circle cx="484.3" cy="314.6" r="1.4" fill="none" stroke="#333" stroke-width="0.8"/>
</g></svg></body></html>
